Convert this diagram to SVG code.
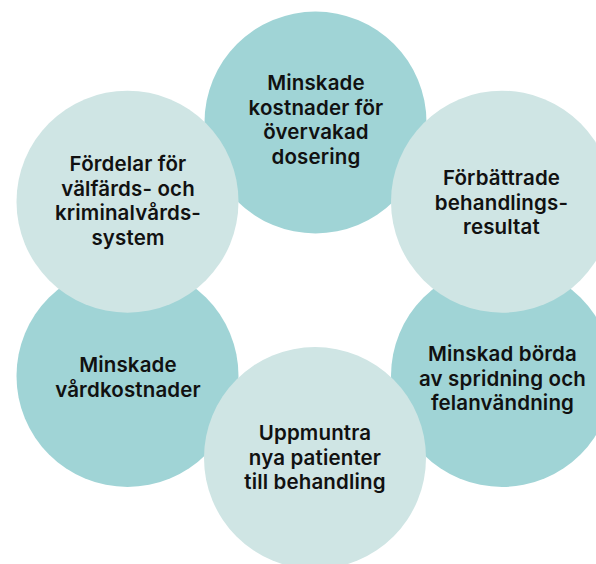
<svg xmlns="http://www.w3.org/2000/svg" width="596" height="564" viewBox="0 0 596 564">
  <style>
    .dark { fill: #a0d4d6; }
    .light { fill: #cfe5e4; }
    .label { font-family: Inter, "Liberation Sans", Arial, sans-serif; font-size: 20.5px; font-weight: 600; letter-spacing: 0.15px; fill: #111111; text-anchor: middle; }
  </style>
  <rect width="596" height="564" fill="#ffffff"/>
  <g id="connectors"></g>

  <!-- darker circles sit underneath -->
  <g id="node-kostnader-dosering">
    <circle class="dark" cx="315.5" cy="122.5" r="111"/>
    <text class="label" x="316" y="90">Minskade</text>
    <text class="label" x="316" y="114.5">kostnader för</text>
    <text class="label" x="316" y="139">övervakad</text>
    <text class="label" x="316" y="163.5">dosering</text>
  </g>
  <g id="node-vardkostnader">
    <circle class="dark" cx="127.5" cy="376" r="111"/>
    <text class="label" x="128" y="372">Minskade</text>
    <text class="label" x="128" y="396.5">vårdkostnader</text>
  </g>
  <g id="node-spridning">
    <circle class="dark" cx="502" cy="376" r="111"/>
    <text class="label" x="502.5" y="361">Minskad börda</text>
    <text class="label" x="502.5" y="385.5">av spridning och</text>
    <text class="label" x="502.5" y="410">felanvändning</text>
  </g>

  <!-- lighter circles drawn on top -->
  <g id="node-valfard">
    <circle class="light" cx="127.5" cy="201.7" r="111"/>
    <text class="label" x="128" y="171">Fördelar för</text>
    <text class="label" x="128" y="195.5">välfärds- och</text>
    <text class="label" x="128" y="220">kriminalvårds-</text>
    <text class="label" x="128" y="244.5">system</text>
  </g>
  <g id="node-behandlingsresultat">
    <circle class="light" cx="502" cy="201.7" r="111"/>
    <text class="label" x="501.5" y="185">Förbättrade</text>
    <text class="label" x="501.5" y="209.5">behandlings-</text>
    <text class="label" x="501.5" y="234">resultat</text>
  </g>
  <g id="node-nya-patienter">
    <circle class="light" cx="315" cy="458" r="111"/>
    <text class="label" x="315" y="440">Uppmuntra</text>
    <text class="label" x="315" y="464.5">nya patienter</text>
    <text class="label" x="315" y="489">till behandling</text>
  </g>
</svg>
